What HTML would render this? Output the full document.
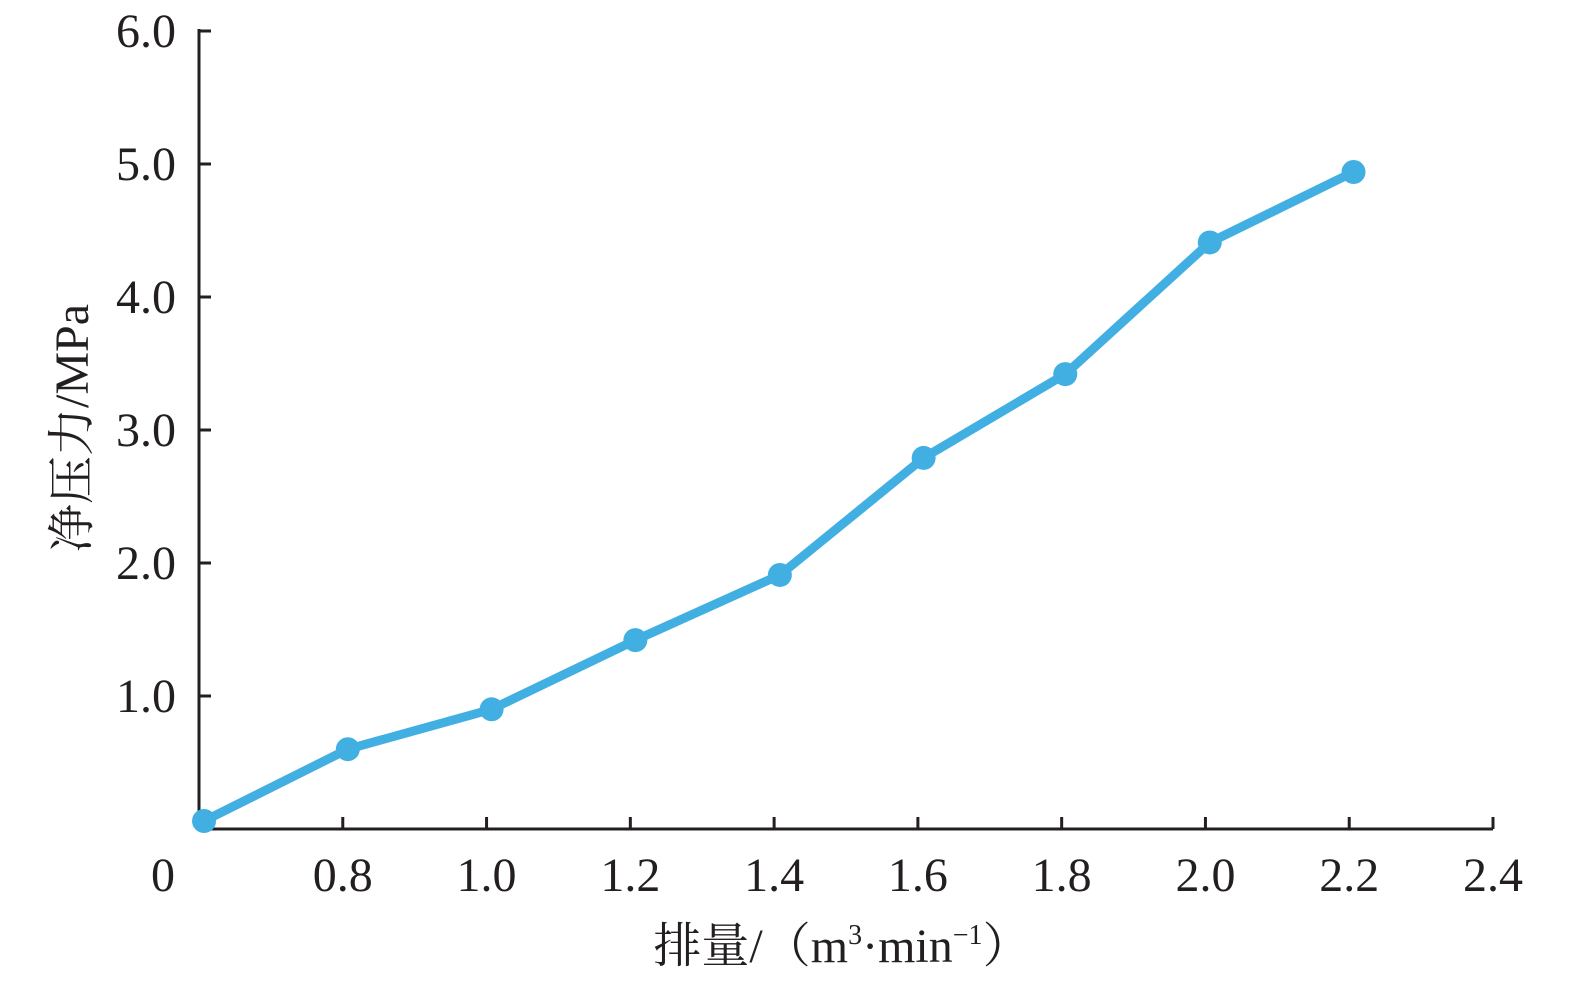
<!DOCTYPE html>
<html><head><meta charset="utf-8"><style>
html,body{margin:0;padding:0;background:#fff;}
svg text{font-family:"Liberation Serif","Noto Serif CJK SC",serif;fill:#231f20;}
</style></head><body>
<svg id="chart" width="1575" height="984" viewBox="0 0 1575 984" xmlns="http://www.w3.org/2000/svg"></svg>
<script>
const xTicks=[0.6,0.8,1.0,1.2,1.4,1.6,1.8,2.0,2.2,2.4];
const xTickLabels=["0","0.8","1.0","1.2","1.4","1.6","1.8","2.0","2.2","2.4"];
const yTicks=[1,2,3,4,5,6];
const yTickLabels=["1.0","2.0","3.0","4.0","5.0","6.0"];
const flowRates=[0.607,0.807,1.007,1.207,1.408,1.608,1.805,2.006,2.206];
const netPressure=[0.06,0.6,0.9,1.42,1.91,2.79,3.42,4.41,4.94];
const NS="http://www.w3.org/2000/svg";
const svg=document.getElementById('chart');
const X0=199,X1=1493,Y0=829,Y1=31;
const sx=v=>X0+(v-0.6)/(2.4-0.6)*(X1-X0);
const sy=v=>Y0-v/6*(Y0-Y1);
function mk(t,a,p){const e=document.createElementNS(NS,t);for(const k in a)e.setAttribute(k,a[k]);(p||svg).appendChild(e);return e;}
let e;
e=mk('line',{x1:X0,y1:Y0,x2:X1,y2:Y0,stroke:'#231f20','stroke-width':3});


e=mk('line',{x1:X0,y1:Y0,x2:X0,y2:Y1-2,stroke:'#231f20','stroke-width':3});


xTicks.forEach((v,i)=>{
  if(i>0){e=mk('line',{x1:sx(v),y1:Y0,x2:sx(v),y2:Y0-12,stroke:'#231f20','stroke-width':3});
  
  }
  e=mk('text',{x:i==0?163:sx(v),y:891,'font-size':48,'text-anchor':'middle'});e.textContent=xTickLabels[i];
  
  
});
yTicks.forEach((v,i)=>{
  e=mk('line',{x1:X0,y1:sy(v),x2:X0+12,y2:sy(v),stroke:'#231f20','stroke-width':3});
  
  
  e=mk('text',{x:176,y:sy(v)+16,'font-size':48,'text-anchor':'end'});e.textContent=yTickLabels[i];
  
  
});
e=mk('text',{x:842,y:962,'font-size':48,'text-anchor':'middle'});
e.innerHTML='排量/（m<tspan font-size="28" dy="-18">3</tspan><tspan dy="18">·min</tspan><tspan font-size="28" dy="-18">−1</tspan><tspan dy="18">）</tspan>';


e=mk('text',{x:0,y:0,'font-size':48,'text-anchor':'middle',transform:'translate(88,428) rotate(-90)'});
e.textContent='净压力/MPa';


const pts=flowRates.map((v,i)=>sx(v)+','+sy(netPressure[i])).join(' ');
e=mk('polyline',{points:pts,fill:'none',stroke:'#42afe2','stroke-width':9,'stroke-linejoin':'round'});


flowRates.forEach((v,i)=>{
  e=mk('circle',{cx:sx(v),cy:sy(netPressure[i]),r:12,fill:'#42afe2'});
  
  
});
</script>
</body></html>
